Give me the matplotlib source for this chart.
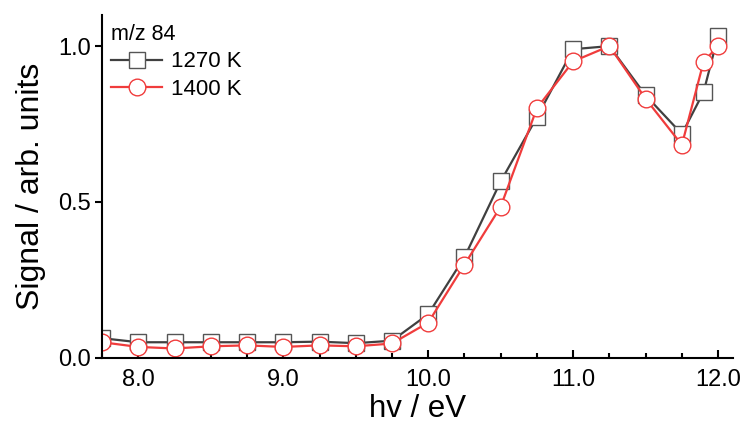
import numpy as np
import matplotlib.pyplot as plt
from matplotlib.ticker import MultipleLocator

plt.rcParams['font.family'] = ['Liberation Sans', 'DejaVu Sans']

energy = [7.75, 8.0, 8.25, 8.5, 8.75, 9.0, 9.25, 9.5, 9.75, 10.0,
          10.25, 10.5, 10.75, 11.0, 11.25, 11.5, 11.75, 11.9, 12.0]
sig_1270 = [0.063, 0.050, 0.050, 0.050, 0.050, 0.050, 0.052, 0.047, 0.055, 0.14,
            0.323, 0.566, 0.772, 0.99, 1.0, 0.842, 0.718, 0.853, 1.033]
sig_1400 = [0.05, 0.035, 0.030, 0.037, 0.040, 0.035, 0.040, 0.037, 0.046, 0.113,
            0.299, 0.485, 0.801, 0.951, 1.0, 0.831, 0.683, 0.95, 1.0]

fig = plt.figure(figsize=(7.4, 4.26), dpi=100)
ax = fig.add_axes([0.138, 0.160, 0.852, 0.805])

ax.plot(energy, sig_1270, '-s', color='#404040', lw=1.6, ms=11,
        mfc='white', mec='#555555', mew=1.0, label='1270 K')
ax.plot(energy, sig_1400, '-o', color='#f03c3c', lw=1.6, ms=12,
        mfc='white', mec='#f03c3c', mew=1.0, label='1400 K')

ax.set_xlim(7.75, 12.1)
ax.set_ylim(0, 1.1)
ax.xaxis.set_major_locator(MultipleLocator(1.0))
ax.xaxis.set_minor_locator(MultipleLocator(0.25))
ax.yaxis.set_major_locator(MultipleLocator(0.5))
ax.xaxis.set_major_formatter(plt.FormatStrFormatter('%.1f'))
ax.yaxis.set_major_formatter(plt.FormatStrFormatter('%.1f'))

ax.tick_params(axis='x', which='major', direction='in', length=6, width=1.5, labelsize=17, pad=8)
ax.tick_params(axis='x', which='minor', direction='in', length=3.5, width=1.5)
ax.tick_params(axis='y', which='major', direction='out', length=5, width=1.5, labelsize=17, pad=3)

for s in ['top', 'right']:
    ax.spines[s].set_visible(False)
for s in ['left', 'bottom']:
    ax.spines[s].set_linewidth(1.5)

ax.set_xlabel('hv / eV', fontsize=22.5, labelpad=2)
ax.set_ylabel('Signal / arb. units', fontsize=23, labelpad=9)

leg = ax.legend(loc='upper left', title='m/z 84', frameon=False, fontsize=16,
                title_fontsize=15.5, handlelength=2.3, borderaxespad=0.1,
                borderpad=0.3, labelspacing=0.3, handletextpad=0.4, alignment='left')

fig.savefig('out.png', dpi=100)
